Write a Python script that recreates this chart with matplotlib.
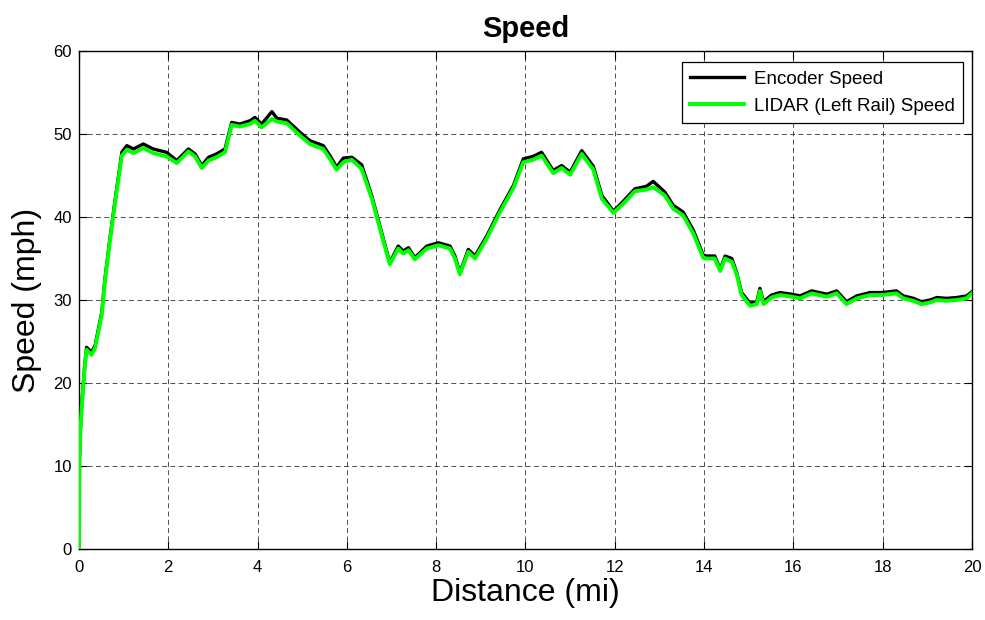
import matplotlib.pyplot as plt
import matplotlib as mpl

# distance (mi) and speed (mph)
distance = [0.0, 0.01, 0.03, 0.06, 0.13, 0.17, 0.28, 0.36, 0.51, 0.58, 0.69, 0.81,
            0.96, 1.07, 1.22, 1.44, 1.66, 1.96, 2.19, 2.45, 2.6, 2.75, 2.9, 3.08,
            3.27, 3.42, 3.6, 3.83, 3.94, 4.09, 4.32, 4.43, 4.65, 4.95, 5.17, 5.47,
            5.62, 5.77, 5.92, 6.11, 6.33, 6.56, 6.78, 6.96, 7.15, 7.26, 7.38, 7.52,
            7.79, 8.05, 8.31, 8.42, 8.53, 8.72, 8.87, 9.13, 9.43, 9.73, 9.95, 10.17,
            10.36, 10.62, 10.81, 11.0, 11.26, 11.52, 11.71, 11.97, 12.19, 12.45,
            12.71, 12.86, 13.12, 13.31, 13.53, 13.76, 13.98, 14.06, 14.24, 14.36,
            14.47, 14.62, 14.73, 14.84, 15.03, 15.18, 15.25, 15.33, 15.51, 15.7,
            15.96, 16.15, 16.41, 16.75, 16.97, 17.19, 17.42, 17.72, 17.98, 18.31,
            18.46, 18.69, 18.87, 19.06, 19.21, 19.43, 19.66, 19.88, 20.0]
lidar_speed = [0.0, 10.5, 14.0, 17.0, 22.0, 24.0, 23.4, 24.2, 28.2, 32.2, 37.0, 41.8,
               47.4, 48.1, 47.7, 48.3, 47.7, 47.3, 46.5, 47.9, 47.3, 45.9, 46.8, 47.2,
               47.8, 51.1, 50.9, 51.2, 51.6, 50.8, 51.8, 51.5, 51.3, 49.8, 48.8, 48.2,
               47.0, 45.7, 46.6, 46.9, 45.8, 42.2, 37.8, 34.3, 36.2, 35.6, 36.0, 34.9,
               36.2, 36.6, 36.2, 35.0, 33.1, 35.8, 35.0, 37.4, 40.6, 43.5, 46.6, 46.9,
               47.4, 45.3, 45.9, 45.1, 47.6, 45.7, 42.2, 40.5, 41.6, 43.1, 43.3, 43.6,
               42.6, 41.0, 40.2, 38.0, 35.1, 35.0, 35.0, 33.5, 35.0, 34.6, 33.1, 30.6,
               29.3, 29.5, 31.1, 29.5, 30.3, 30.6, 30.4, 30.2, 30.8, 30.4, 30.8, 29.5,
               30.2, 30.6, 30.6, 30.8, 30.2, 29.9, 29.5, 29.7, 30.0, 29.9, 30.0, 30.2,
               30.8]
encoder_speed = [0.0, 10.8, 14.3, 17.3, 22.2, 24.3, 23.7, 24.5, 28.5, 32.5, 37.3, 42.1,
                 47.8, 48.6, 48.2, 48.8, 48.2, 47.8, 46.8, 48.2, 47.6, 46.2, 47.2, 47.6,
                 48.2, 51.4, 51.2, 51.6, 52.0, 51.2, 52.7, 51.9, 51.7, 50.2, 49.2, 48.6,
                 47.4, 46.0, 47.1, 47.2, 46.3, 42.5, 38.1, 34.5, 36.5, 35.9, 36.3, 35.1,
                 36.5, 36.9, 36.5, 35.3, 33.3, 36.1, 35.3, 37.7, 40.9, 43.8, 47.0, 47.3,
                 47.8, 45.6, 46.2, 45.4, 48.0, 46.1, 42.6, 40.7, 41.9, 43.4, 43.7, 44.3,
                 43.0, 41.4, 40.6, 38.4, 35.4, 35.3, 35.3, 33.7, 35.3, 35.0, 33.3, 30.9,
                 29.6, 29.8, 31.4, 29.8, 30.6, 30.9, 30.7, 30.5, 31.1, 30.7, 31.1, 29.8,
                 30.5, 30.9, 30.9, 31.1, 30.5, 30.2, 29.8, 30.0, 30.3, 30.2, 30.3, 30.5,
                 31.0]

mpl.rcParams['font.family'] = ['Liberation Sans', 'DejaVu Sans']

fig = plt.figure(figsize=(9.85, 6.2), dpi=100)
ax = fig.add_axes([0.0802, 0.1145, 0.9066, 0.8032])

ax.plot(distance, encoder_speed, color='black', linewidth=2.4, label='Encoder Speed', zorder=3)
ax.plot(distance, lidar_speed, color='#00ff00', linewidth=2.8, label='LIDAR (Left Rail) Speed', zorder=4)

ax.set_xlim(0, 20)
ax.set_ylim(0, 60)
ax.set_xticks(range(0, 21, 2))
ax.set_yticks(range(0, 61, 10))
ax.tick_params(direction='in', top=True, right=True, labelsize=12, length=6, width=0.8)
ax.tick_params(axis='x', pad=8)
ax.tick_params(axis='y', pad=5)
ax.grid(True, color='#222222', linestyle=(0, (5, 3.5)), linewidth=0.7, alpha=0.8)
for s in ax.spines.values():
    s.set_linewidth(1.0)

ax.set_title('Speed', fontsize=21, fontweight='bold', pad=10)
ax.set_xlabel('Distance (mi)', fontsize=23, labelpad=2)
ax.set_ylabel('Speed (mph)', fontsize=23, labelpad=8)

leg = ax.legend(loc='upper right', fontsize=13.5, fancybox=False, edgecolor='black',
                framealpha=1, borderpad=0.45, handlelength=2.9, labelspacing=0.55,
                handletextpad=0.5, borderaxespad=0, bbox_to_anchor=(0.99, 0.978))
leg.get_frame().set_linewidth(0.9)

fig.savefig('out.png', dpi=100)
